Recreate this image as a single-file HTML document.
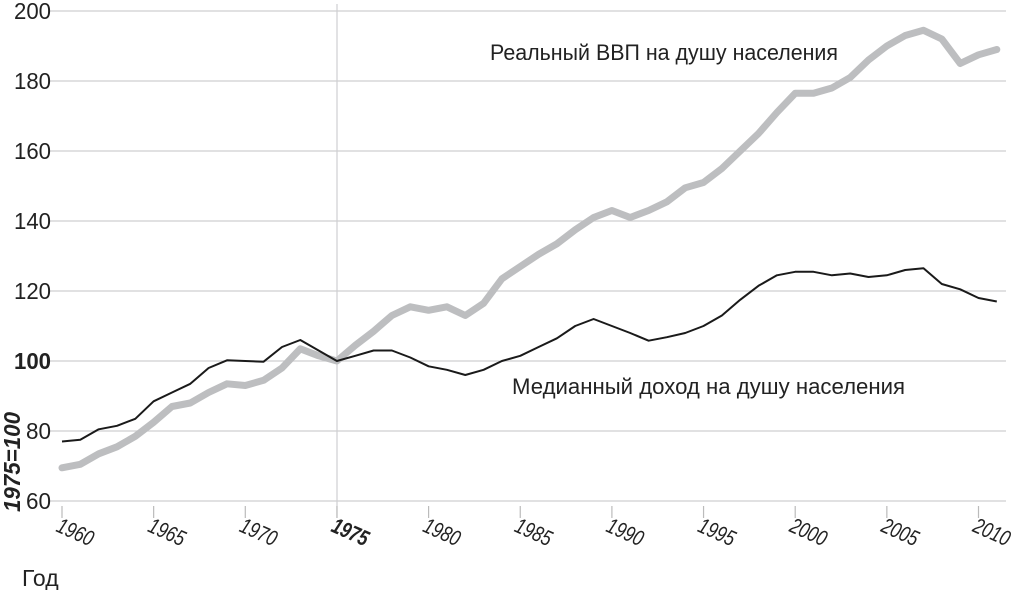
<!DOCTYPE html>
<html><head><meta charset="utf-8"><style>
body{margin:0;background:#fff}
svg{display:block;font-family:"Liberation Sans","DejaVu Sans",sans-serif}
</style></head><body>
<svg id="s" width="1011" height="590" viewBox="0 0 1011 590">
<g id="grid" stroke="#cfcfd1" stroke-width="1.2"></g>
<line x1="337" y1="4" x2="337" y2="518" stroke="#cfcfd1" stroke-width="1.2"/>
<g id="ticks" stroke="#bbb" stroke-width="1.2"></g>
<g id="ylab" font-size="23" fill="#222" text-anchor="end"></g>
<g id="xlab" font-size="22" fill="#222" font-style="italic"></g>
<polyline id="gdp" fill="none" stroke="#bdbec0" stroke-width="7" stroke-linejoin="round" stroke-linecap="round"/>
<polyline id="med" fill="none" stroke="#1a1a1a" stroke-width="2" stroke-linejoin="round"/>
<text x="490" y="60" font-size="22" fill="#222" textLength="348" lengthAdjust="spacingAndGlyphs">Реальный ВВП на душу населения</text>
<text x="512" y="394" font-size="22" fill="#222" textLength="393" lengthAdjust="spacingAndGlyphs">Медианный доход на душу населения</text>
<text transform="translate(20,512) rotate(-90)" font-size="23" font-weight="bold" font-style="italic" fill="#222" textLength="100" lengthAdjust="spacingAndGlyphs">1975=100</text>
<text x="22" y="586" font-size="23" fill="#222">Год</text>
</svg>
<script>
var X=y=>62+(y-1960)*18.33, Y=v=>11+(200-v)*3.5, ns="http://www.w3.org/2000/svg";
function el(p,t,a,txt){var e=document.createElementNS(ns,t);for(var k in a)e.setAttribute(k,a[k]);if(txt)e.textContent=txt;document.getElementById(p).appendChild(e);}
for(var v=60;v<=200;v+=20){el("grid","line",{x1:50,x2:1006,y1:Y(v),y2:Y(v)});
 el("ylab","text",{x:51,y:Y(v)+8,"font-weight":v==100?"bold":"normal",textLength:v<100?25:37,lengthAdjust:"spacingAndGlyphs"},String(v));}
for(var yr=1960;yr<=2010;yr+=5){el("ticks","line",{x1:X(yr),x2:X(yr),y1:506,y2:518});
 el("xlab","text",{transform:"translate("+(X(yr)-7)+",531) rotate(24)","font-weight":yr==1975?"bold":"normal",textLength:38,lengthAdjust:"spacingAndGlyphs"},String(yr));}
var g=[69.5,70.5,73.5,75.5,78.5,82.5,87,88,91,93.5,93,94.5,98,103.5,101.5,100,104.5,108.5,113,115.5,114.5,115.5,113,116.5,123.5,127,130.5,133.5,137.5,141,143,141,143,145.5,149.5,151,155,160,165,171,176.5,176.5,178,181,186,190,193,194.5,192,185,187.5,189];
var m=[77,77.5,80.5,81.5,83.5,88.5,91,93.5,98,100.2,100,99.8,104,106,103,100,101.5,103,103,101,98.5,97.5,96,97.5,100,101.5,104,106.5,110,112,110,108,105.8,106.8,108,110,113,117.5,121.5,124.5,125.5,125.5,124.5,125,124,124.5,126,126.5,122,120.5,118,117];
function pts(a){return a.map((v,i)=>X(1960+i).toFixed(1)+","+Y(v).toFixed(1)).join(" ");}
document.getElementById("gdp").setAttribute("points",pts(g));
document.getElementById("med").setAttribute("points",pts(m));
</script>
</body></html>
